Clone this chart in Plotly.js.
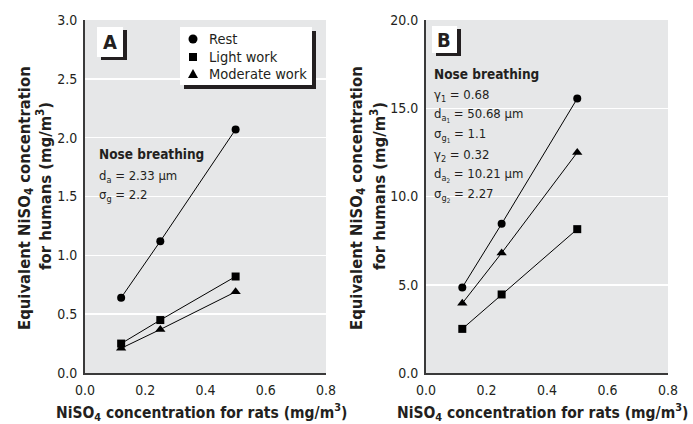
<!DOCTYPE html>
<html>
<head>
<meta charset="utf-8">
<script src="https://cdn.plot.ly/plotly-3.0.1.min.js"></script>
<style>html,body{margin:0;padding:0;background:#fff;}#chart{width:693px;height:424px;}</style>
</head>
<body>
<div id="chart"></div>
<script>
// ---- data ----
const ratConc = [0.12, 0.25, 0.5];
const seriesNames = ['Rest', 'Light work', 'Moderate work'];
const seriesSymbols = ['circle', 'square', 'triangle-up'];
const panelA_rest = [0.64, 1.12, 2.07];
const panelA_light = [0.25, 0.45, 0.82];
const panelA_moderate = [0.21, 0.37, 0.69];
const panelB_rest = [4.85, 8.45, 15.55];
const panelB_light = [2.5, 4.45, 8.15];
const panelB_moderate = [3.95, 6.8, 12.5];
const xTicks = [0, 0.2, 0.4, 0.6, 0.8];
const yTicksA = [0, 0.5, 1, 1.5, 2, 2.5, 3];
const yTicksB = [0, 5, 10, 15, 20];

// ---- helpers ----
const W = 693, H = 424;
const px = x => x / W;
const py = y => 1 - y / H;
const FONT = '"Liberation Sans Narrow", "DejaVu Sans Condensed", Arial, sans-serif';
const TXT = '#231f20';

function trace(x, y, sym, xa, ya) {
  return {
    x: x, y: y, xaxis: xa, yaxis: ya, mode: 'lines+markers', showlegend: false,
    line: {color: '#000', width: 1},
    marker: {symbol: sym, size: sym === 'triangle-up' ? 9 : 8, color: '#000'},
    hoverinfo: 'skip'
  };
}

const traces = [
  trace(ratConc, panelA_rest, seriesSymbols[0], 'x', 'y'),
  trace(ratConc, panelA_light, seriesSymbols[1], 'x', 'y'),
  trace(ratConc, panelA_moderate, seriesSymbols[2], 'x', 'y'),
  trace(ratConc, panelB_rest, seriesSymbols[0], 'x2', 'y2'),
  trace(ratConc, panelB_light, seriesSymbols[1], 'x2', 'y2'),
  trace(ratConc, panelB_moderate, seriesSymbols[2], 'x2', 'y2')
];

const axisBase = {
  showline: true, linecolor: '#3a3a3a', linewidth: 2, ticks: '', zeroline: false,
  tickfont: {family: FONT, size: 14, color: TXT}, fixedrange: true
};

const xA = Object.assign({}, axisBase, {domain: [px(85), px(326)], range: [0, 0.8], tickvals: xTicks, ticktext: xTicks.map(v => v.toFixed(1)), showgrid: false, anchor: 'y', ticklabelstandoff: 3});
const xB = Object.assign({}, axisBase, {domain: [px(426), px(668)], range: [0, 0.8], tickvals: xTicks, ticktext: xTicks.map(v => v.toFixed(1)), showgrid: false, anchor: 'y2', ticklabelstandoff: 3});
const yA = Object.assign({}, axisBase, {domain: [py(373), py(20)], range: [0, 3], tickvals: yTicksA, ticktext: yTicksA.map(v => v.toFixed(1)), showgrid: true, gridcolor: '#ffffff', gridwidth: 1.5, anchor: 'x', ticklabelstandoff: 3});
const yB = Object.assign({}, axisBase, {domain: [py(373), py(20)], range: [0, 20], tickvals: yTicksB, ticktext: yTicksB.map(v => v.toFixed(1)), showgrid: true, gridcolor: '#ffffff', gridwidth: 1.5, anchor: 'x2', ticklabelstandoff: 3});

const shapes = [];
function bg(x0, x1) {
  shapes.push({type: 'rect', xref: 'paper', yref: 'paper', x0: px(x0), x1: px(x1), y0: py(373), y1: py(20), fillcolor: '#e6e7e8', line: {width: 0}, layer: 'below'});
}
bg(85, 326); bg(426, 668);
function box(x0, x1, y0, y1, dx, dy) {
  shapes.push({type: 'rect', xref: 'paper', yref: 'paper', x0: px(x0 + dx), x1: px(x1 + dx), y0: py(y1 + dy), y1: py(y0 + dy), fillcolor: '#231f20', line: {width: 0}, layer: 'above'});
  shapes.push({type: 'rect', xref: 'paper', yref: 'paper', x0: px(x0), x1: px(x1), y0: py(y1), y1: py(y0), fillcolor: '#ffffff', line: {width: 0}, layer: 'above'});
}
box(97, 123, 27, 57, 4, 3);      // A label
box(180, 312, 27, 85, 4, 4);     // legend
box(432, 457, 26, 53, 4, 3);     // B label

// legend symbols (drawn as shapes in pixel-mapped paper coords)
const legX = 193, legY = [39, 57, 74], r = 4.5;
shapes.push({type: 'circle', xref: 'paper', yref: 'paper', x0: px(legX - r), x1: px(legX + r), y0: py(legY[0] + r), y1: py(legY[0] - r), fillcolor: '#000', line: {width: 0}, layer: 'above'});
shapes.push({type: 'rect', xref: 'paper', yref: 'paper', x0: px(legX - 4), x1: px(legX + 4), y0: py(legY[1] + 4), y1: py(legY[1] - 4), fillcolor: '#000', line: {width: 0}, layer: 'above'});
shapes.push({type: 'path', xref: 'paper', yref: 'paper',
  path: `M ${px(legX - 5)} ${py(legY[2] + 4)} L ${px(legX + 5)} ${py(legY[2] + 4)} L ${px(legX)} ${py(legY[2] - 5)} Z`,
  fillcolor: '#000', line: {width: 0}, layer: 'above'});

const annotations = [];
function ann(text, x, y, opts) {
  annotations.push(Object.assign({text: text, xref: 'paper', yref: 'paper', x: px(x), y: py(y), showarrow: false,
    xanchor: 'left', yanchor: 'middle', font: {family: FONT, size: 13, color: TXT}}, opts || {}));
}
// legend texts
seriesNames.forEach((n, i) => ann(n, 207, legY[i], {font: {family: FONT, size: 14.5, color: TXT}}));
// panel labels
ann('<b>A</b>', 110, 42, {xanchor: 'center', font: {family: FONT, size: 20, color: TXT}});
ann('<b>B</b>', 444, 40, {xanchor: 'center', font: {family: FONT, size: 20, color: TXT}});
// axis titles
const yTitle1 = '<b>Equivalent NiSO<sub>4</sub> concentration</b>';
const yTitle2 = '<b>for humans (mg/m<sup>3</sup>)</b>';
const xTitle = '<b>NiSO<sub>4</sub> concentration for rats (mg/m<sup>3</sup>)</b>';
const tf = {family: FONT, size: 16.5, color: TXT};
ann(yTitle1, 25, 198, {xanchor: 'center', textangle: -90, font: tf});
ann(yTitle2, 44, 186, {xanchor: 'center', textangle: -90, font: tf});
ann(yTitle1, 357, 198, {xanchor: 'center', textangle: -90, font: tf});
ann(yTitle2, 378, 186, {xanchor: 'center', textangle: -90, font: tf});
ann(xTitle, 201, 412, {xanchor: 'center', font: {family: FONT, size: 15.5, color: TXT}});
ann(xTitle, 542, 412, {xanchor: 'center', font: {family: FONT, size: 15.5, color: TXT}});
// panel A notes
ann('<b>Nose breathing</b>', 97, 154, {font: {family: FONT, size: 13.5, color: TXT}});
ann('d<sub>a</sub> = 2.33 µm', 97, 176);
ann('σ<sub>g</sub> = 2.2', 97, 195);
// panel B notes
ann('<b>Nose breathing</b>', 432, 74, {font: {family: FONT, size: 13.5, color: TXT}});
ann('γ<sub>1</sub> = 0.68', 432, 95);
ann('d<sub>a<sub>1</sub></sub> = 50.68 µm', 432, 115);
ann('σ<sub>g<sub>1</sub></sub> = 1.1', 432, 135);
ann('γ<sub>2</sub> = 0.32', 432, 155);
ann('d<sub>a<sub>2</sub></sub> = 10.21 µm', 432, 175);
ann('σ<sub>g<sub>2</sub></sub> = 2.27', 432, 195);

const layout = {
  width: W, height: H, margin: {l: 0, r: 0, t: 0, b: 0},
  paper_bgcolor: '#ffffff', plot_bgcolor: 'rgba(0,0,0,0)',
  font: {family: FONT, color: TXT},
  xaxis: xA, yaxis: yA, xaxis2: xB, yaxis2: yB,
  shapes: shapes, annotations: annotations,
  showlegend: false
};

Plotly.newPlot('chart', traces, layout, {staticPlot: true, displayModeBar: false});
</script>
</body>
</html>
